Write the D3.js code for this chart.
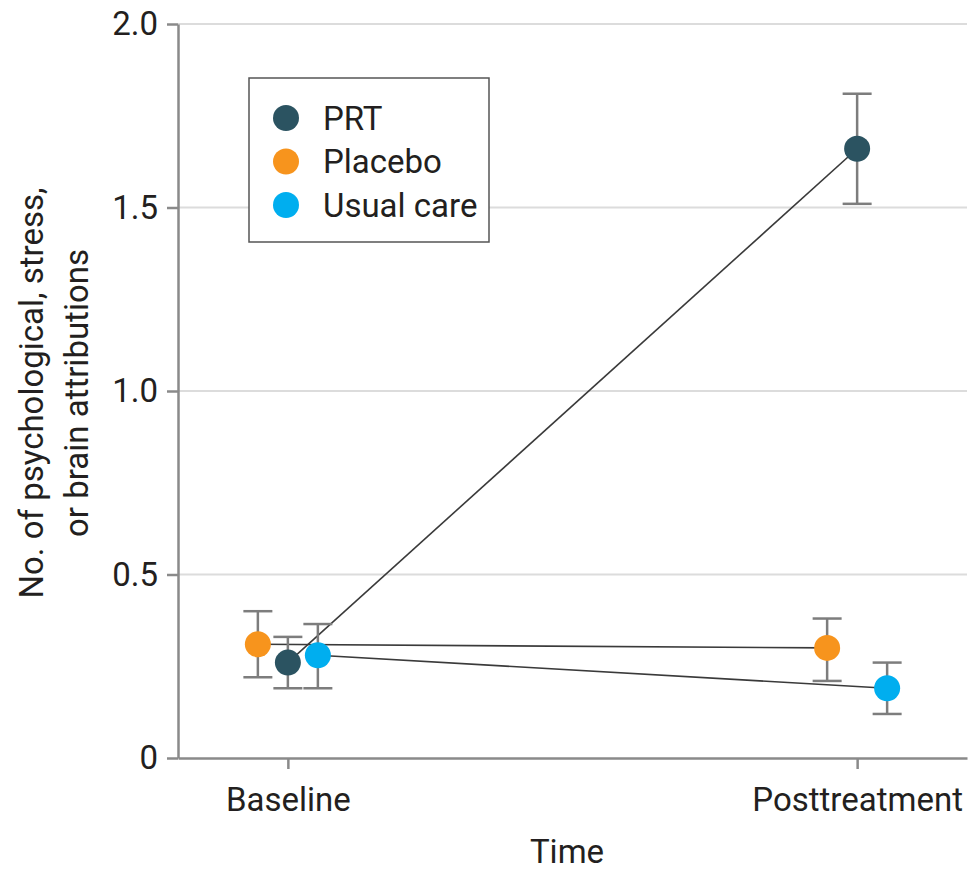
<!DOCTYPE html>
<html>
<head>
<meta charset="utf-8">
<script src="https://cdn.jsdelivr.net/npm/d3@7"></script>
<style>
  body { margin: 0; background: #fff; }
  svg text { font-family: Roboto, "Open Sans", sans-serif; fill: #231f20; }
</style>
</head>
<body>
<div id="chart"></div>
<script>
const times = ["Baseline", "Posttreatment"];
const groups = ["PRT", "Placebo", "Usual care"];
const colors = ["#2b5361", "#f7941d", "#00aeef"];

const prtMean = [0.26, 1.66];
const prtLow = [0.19, 1.51];
const prtHigh = [0.33, 1.81];

const placeboMean = [0.31, 0.30];
const placeboLow = [0.22, 0.21];
const placeboHigh = [0.40, 0.38];

const usualMean = [0.28, 0.19];
const usualLow = [0.19, 0.12];
const usualHigh = [0.365, 0.26];

const yTicks = [0, 0.5, 1, 1.5, 2];
const yTickLabels = ["0", "0.5", "1.0", "1.5", "2.0"];

const series = [
    { name: groups[0], color: colors[0], mean: prtMean, low: prtLow, high: prtHigh },
    { name: groups[1], color: colors[1], mean: placeboMean, low: placeboLow, high: placeboHigh },
    { name: groups[2], color: colors[2], mean: usualMean, low: usualLow, high: usualHigh },
];

const svgWidth = 972;
const svgHeight = 872;
const fontSize = 33;

const svg = d3.select("#chart")
    .append("svg")
    .attr("width", svgWidth)
    .attr("height", svgHeight);

const xScale = d3.scalePoint()
    .domain(times)
    .range([178, 967])
    .padding(0.193);

// small side-by-side shift so the groups don't overlap
const dodge = d3.scalePoint()
    .domain(["Placebo", "PRT", "Usual care"])
    .range([-30, 30]);

const yScale = d3.scaleLinear()
    .domain([0, 2])
    .range([758, 24]);

// gridlines
svg.append("g")
    .selectAll("line")
    .data(yTicks.filter(d => d > 0))
    .join("line")
    .attr("x1", 178)
    .attr("x2", 967)
    .attr("y1", d => yScale(d))
    .attr("y2", d => yScale(d))
    .attr("stroke", "#dcdcdc")
    .attr("stroke-width", 2);

// Y axis
const yAxis = svg.append("g")
    .attr("transform", "translate(178,0)")
    .call(d3.axisLeft(yScale)
        .tickValues(yTicks)
        .tickFormat((d, i) => yTickLabels[i])
        .tickSize(11)
        .tickSizeOuter(0)
        .tickPadding(9));

// X axis
const xAxis = svg.append("g")
    .attr("transform", `translate(0,${yScale(0)})`)
    .call(d3.axisBottom(xScale)
        .tickSize(11)
        .tickSizeOuter(0)
        .tickPadding(14));

[yAxis, xAxis].forEach(ax => {
    ax.select(".domain").attr("stroke", "#8a8a8a").attr("stroke-width", 2.5);
    ax.selectAll(".tick line").attr("stroke", "#8a8a8a").attr("stroke-width", 2.5);
    ax.selectAll(".tick text")
        .attr("font-size", fontSize)
        .attr("font-family", null)
        .style("fill", "#231f20");
});
xAxis.selectAll(".tick text").attr("dy", "0.85em");

const px = (s, i) => xScale(times[i]) + dodge(s.name);

// connecting lines
const line = d3.line()
    .x(d => d[0])
    .y(d => d[1]);

svg.append("g")
    .selectAll("path")
    .data(series)
    .join("path")
    .attr("d", s => line(times.map((t, i) => [px(s, i), yScale(s.mean[i])])))
    .attr("fill", "none")
    .attr("stroke", "#3a3a3a")
    .attr("stroke-width", 1.6);

// error bars
const points = series.flatMap(s => times.map((t, i) => ({ s, i })));

const err = svg.append("g")
    .selectAll("g")
    .data(points)
    .join("g")
    .attr("stroke", "#7d7d7d")
    .attr("stroke-width", 2.5);

err.append("line")
    .attr("x1", d => px(d.s, d.i))
    .attr("x2", d => px(d.s, d.i))
    .attr("y1", d => yScale(d.s.low[d.i]))
    .attr("y2", d => yScale(d.s.high[d.i]));

err.append("line")
    .attr("x1", d => px(d.s, d.i) - 14.5)
    .attr("x2", d => px(d.s, d.i) + 14.5)
    .attr("y1", d => yScale(d.s.high[d.i]))
    .attr("y2", d => yScale(d.s.high[d.i]));

err.append("line")
    .attr("x1", d => px(d.s, d.i) - 14.5)
    .attr("x2", d => px(d.s, d.i) + 14.5)
    .attr("y1", d => yScale(d.s.low[d.i]))
    .attr("y2", d => yScale(d.s.low[d.i]));

// points
svg.append("g")
    .selectAll("circle")
    .data(points)
    .join("circle")
    .attr("cx", d => px(d.s, d.i))
    .attr("cy", d => yScale(d.s.mean[d.i]))
    .attr("r", 13)
    .attr("fill", d => d.s.color);

// legend
const legend = svg.append("g");
legend.append("rect")
    .attr("x", 249)
    .attr("y", 78)
    .attr("width", 240)
    .attr("height", 164)
    .attr("fill", "#fff")
    .attr("stroke", "#555")
    .attr("stroke-width", 1.5);

const items = legend.selectAll("g")
    .data(series)
    .join("g")
    .attr("transform", (d, i) => `translate(286,${118 + i * 43.5})`);

items.append("circle")
    .attr("r", 13)
    .attr("fill", d => d.color);

items.append("text")
    .attr("x", 37)
    .attr("dy", "0.35em")
    .attr("font-size", fontSize)
    .text(d => d.name);

// X axis label
svg.append("text")
    .attr("x", 567)
    .attr("y", 863)
    .attr("text-anchor", "middle")
    .attr("font-size", fontSize)
    .text("Time");

// Y axis label
const yLabel = svg.append("text")
    .attr("transform", "rotate(-90)")
    .attr("text-anchor", "middle")
    .attr("font-size", fontSize);

yLabel.append("tspan")
    .attr("x", -393)
    .attr("y", 43)
    .text("No. of psychological, stress,");

yLabel.append("tspan")
    .attr("x", -393)
    .attr("y", 88)
    .text("or brain attributions");
</script>
</body>
</html>
